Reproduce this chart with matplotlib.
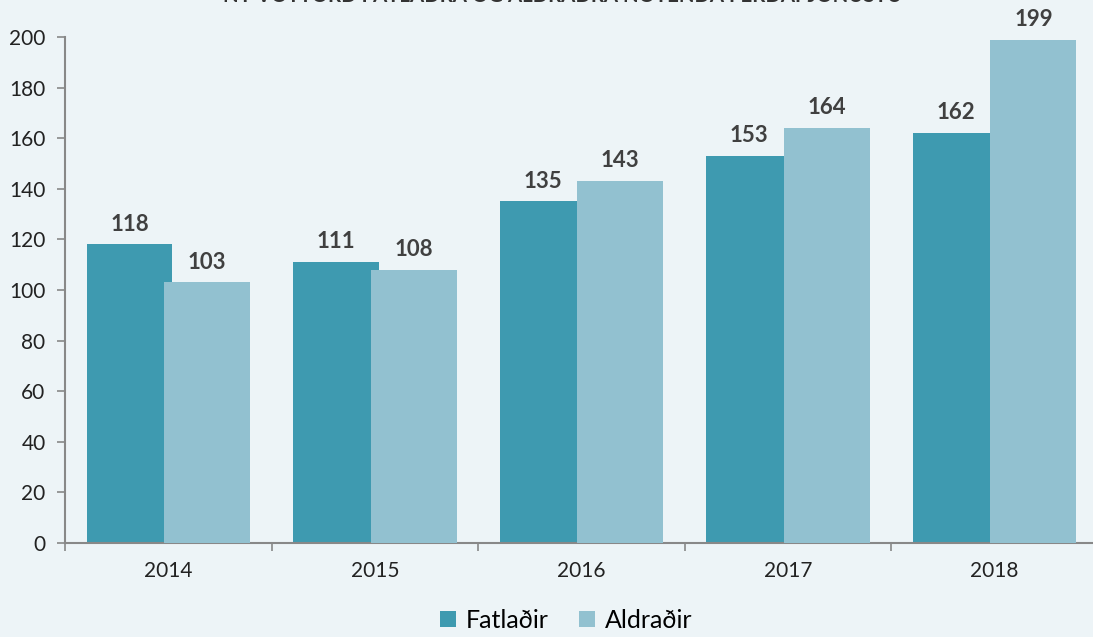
import matplotlib
matplotlib.use("Agg")
import matplotlib.pyplot as plt
import numpy as np

years = ["2014", "2015", "2016", "2017", "2018"]
fatladir = [118, 111, 135, 153, 162]
aldradir = [103, 108, 143, 164, 199]
series_names = ["Fatlaðir", "Aldraðir"]
title = "NÝ VOTTORÐ FATLAÐRA OG ALDRAÐRA NOTENDA FERÐAÞJÓNUSTU"

bg = "#EDF4F7"
c1 = "#3E9AB0"
c2 = "#92C1D0"

plt.rcParams['font.family'] = ['Lato', 'DejaVu Sans']

fig = plt.figure(figsize=(10.93, 6.37), dpi=100, facecolor=bg)
ax = fig.add_axes([0.0595, 0.1476, 0.945, 0.7943], facecolor=bg)

x = np.arange(len(years))
w = 0.416
off = 0.188
b1 = ax.bar(x - off, fatladir, w, color=c1, label=series_names[0], zorder=2)
b2 = ax.bar(x + off, aldradir, w, color=c2, label=series_names[1], zorder=3)

for bars in (b1, b2):
    for r in bars:
        ax.annotate(f"{int(r.get_height())}", (r.get_x() + r.get_width()/2, r.get_height()),
                    xytext=(0, 7), textcoords="offset points", ha="center", va="bottom",
                    fontsize=16, fontweight="bold", color="#404040", zorder=4)

ax.set_xlim(-0.5, len(years) - 0.5)
ax.set_ylim(0, 200)
ax.set_yticks(range(0, 201, 20))
ax.set_xticks(x)
ax.set_xticklabels(years)
ax.set_xticks(np.arange(-0.5, len(years), 1), minor=True)
ax.tick_params(axis='x', which='major', length=0, pad=13, labelsize=15, colors="#222222")
ax.tick_params(axis='x', which='minor', length=6, color="#888888", width=1.2)
ax.tick_params(axis='y', length=6, color="#888888", width=1.2, labelsize=15, labelcolor="#222222", pad=8)
for s in ("top", "right"):
    ax.spines[s].set_visible(False)
for s in ("left", "bottom"):
    ax.spines[s].set_color("#888888")
    ax.spines[s].set_linewidth(1.5)

fig.text(0.515, 1.006, title, ha="center", va="center", fontsize=14.7, fontweight="bold", color="#333333")

leg = fig.legend(handles=[b1, b2], labels=series_names, loc="lower center", ncol=2,
                 bbox_to_anchor=(0.518, -0.027), frameon=False, fontsize=18,
                 handlelength=0.65, handleheight=0.65, handletextpad=0.4, columnspacing=1.2)

fig.savefig("out.png", dpi=100, facecolor=bg)
